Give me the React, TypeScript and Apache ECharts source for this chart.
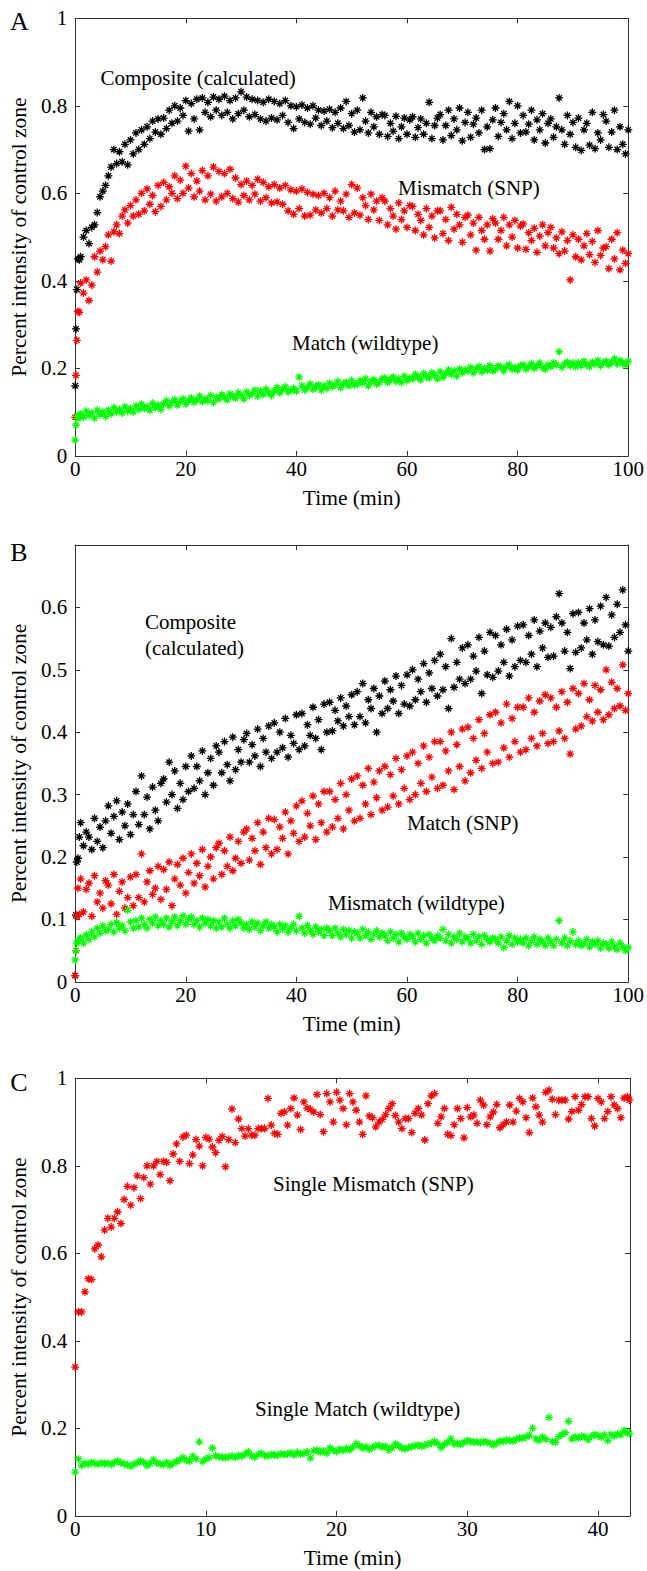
import React, { useEffect, useRef } from "react";
import * as echarts from "echarts";

// ---------- data (values in thousandths of the control-zone intensity) ----------
const timeAB = [0, 0.15, 0.3, 0.5, 0.75,
  1, 1.5, 2, 2.5, 3, 3.5, 4, 4.5, 5, 5.5,
  6, 6.5, 7, 7.5, 8, 8.5, 9, 9.5, 10, 10.5,
  11, 11.5, 12, 12.5, 13, 13.5, 14, 14.5, 15, 15.5,
  16, 16.5, 17, 17.5, 18, 18.5, 19, 19.5, 20, 20.5,
  21, 21.5, 22, 22.5, 23, 23.5, 24, 24.5, 25, 25.5,
  26, 26.5, 27, 27.5, 28, 28.5, 29, 29.5, 30, 30.5,
  31, 31.5, 32, 32.5, 33, 33.5, 34, 34.5, 35, 35.5,
  36, 36.5, 37, 37.5, 38, 38.5, 39, 39.5, 40, 40.5,
  41, 41.5, 42, 42.5, 43, 43.5, 44, 44.5, 45, 45.5,
  46, 46.5, 47, 47.5, 48, 48.5, 49, 49.5, 50, 50.5,
  51, 51.5, 52, 52.5, 53, 53.5, 54, 54.5, 55, 55.5,
  56, 56.5, 57, 57.5, 58, 58.5, 59, 59.5, 60, 60.5,
  61, 61.5, 62, 62.5, 63, 63.5, 64, 64.5, 65, 65.5,
  66, 66.5, 67, 67.5, 68, 68.5, 69, 69.5, 70, 70.5,
  71, 71.5, 72, 72.5, 73, 73.5, 74, 74.5, 75, 75.5,
  76, 76.5, 77, 77.5, 78, 78.5, 79, 79.5, 80, 80.5,
  81, 81.5, 82, 82.5, 83, 83.5, 84, 84.5, 85, 85.5,
  86, 86.5, 87, 87.5, 88, 88.5, 89, 89.5, 90, 90.5,
  91, 91.5, 92, 92.5, 93, 93.5, 94, 94.5, 95, 95.5,
  96, 96.5, 97, 97.5, 98, 98.5, 99, 99.5, 100];

const compositeA = [160, 290, 380, 450, 448,
  455, 500, 515, 485, 522, 528, 556, 592, 605, 618,
  640, 660, 700, 668, 695, 672, 712, 665, 722, 690,
  738, 700, 745, 712, 752, 725, 765, 740, 770, 735,
  772, 748, 790, 760, 800, 765, 795, 778, 812, 742,
  805, 770, 815, 745, 818, 785, 808, 775, 820, 790,
  815, 778, 822, 785, 812, 770, 818, 782, 832, 790,
  820, 775, 815, 780, 812, 770, 808, 765, 815, 772,
  810, 768, 805, 778, 812, 762, 800, 748, 798, 770,
  802, 762, 795, 758, 800, 772, 790, 755, 788, 765,
  792, 750, 785, 760, 795, 748, 810, 755, 782, 740,
  790, 745, 818, 765, 738, 785, 752, 775, 735, 780,
  778, 730, 760, 742, 776, 725, 752, 772, 735, 768,
  775, 728, 750, 770, 735, 760, 808, 725, 755, 772,
  780, 722, 755, 790, 732, 770, 745, 795, 720, 762,
  785, 728, 758, 772, 738, 790, 700, 752, 702, 768,
  795, 730, 762, 782, 745, 810, 725, 760, 800, 738,
  778, 740, 758, 790, 722, 768, 745, 782, 715, 760,
  770, 728, 752, 818, 745, 712, 778, 735, 762, 705,
  772, 698, 745, 760, 710, 785, 702, 738, 722, 780,
  765, 705, 740, 790, 700, 752, 712, 690, 745];

const mismatchA = [88, 184, 264, 330, 328,
  395, 372, 402, 355, 390, 455, 420, 468, 448, 478,
  505, 445, 512, 528, 508, 548, 562, 532, 572, 548,
  585, 552, 600, 560, 610, 575, 595, 558, 618, 570,
  625, 585, 615, 600, 640, 588, 630, 600, 662, 612,
  645, 592, 628, 605, 652, 585, 640, 598, 660, 582,
  650, 592, 645, 600, 655, 588, 635, 580, 620, 595,
  628, 585, 618, 598, 632, 582, 625, 590, 615, 578,
  620, 580, 612, 575, 618, 560, 608, 552, 605, 565,
  610, 548, 602, 550, 598, 562, 595, 555, 600, 565,
  590, 548, 605, 562, 582, 560, 598, 545, 620, 555,
  612, 550, 590, 572, 540, 598, 562, 582, 538, 590,
  582, 528, 565, 548, 518, 578, 540, 560, 522, 572,
  570, 515, 552, 538, 505, 565, 522, 548, 498, 560,
  560, 508, 540, 492, 568, 518, 552, 528, 488, 545,
  550, 505, 532, 470, 545, 515, 495, 528, 468, 542,
  532, 495, 515, 545, 480, 528, 500, 538, 475, 525,
  530, 472, 510, 492, 520, 465, 502, 528, 480, 510,
  522, 475, 498, 462, 512, 468, 492, 402, 505, 455,
  495, 448, 480, 508, 460, 490, 442, 515, 458, 475,
  478, 428, 495, 450, 510, 425, 470, 440, 462];

const matchA = [36, 70, 90, 85, 92,
  95, 88, 102, 92, 98, 86, 104, 94, 100, 90,
  104, 96, 110, 100, 106, 98, 112, 102, 108, 100,
  114, 106, 118, 108, 112, 104, 120, 110, 116, 106,
  118, 126, 114, 122, 128, 116, 124, 130, 118, 126,
  132, 122, 128, 136, 124, 130, 126, 138, 122, 134,
  130, 140, 134, 128, 142, 136, 132, 144, 138, 130,
  146, 138, 142, 150, 136, 148, 140, 152, 144, 138,
  148, 156, 144, 152, 158, 146, 150, 154, 148, 180,
  160, 150, 156, 164, 152, 158, 162, 150, 160, 154,
  166, 158, 162, 170, 156, 164, 168, 160, 172, 162,
  164, 172, 166, 176, 160, 170, 174, 164, 168, 176,
  178, 168, 174, 180, 170, 176, 168, 182, 172, 178,
  176, 186, 180, 174, 188, 182, 178, 190, 184, 176,
  192, 180, 188, 196, 186, 194, 182, 198, 190, 196,
  194, 202, 190, 198, 204, 192, 200, 196, 206, 194,
  198, 206, 202, 194, 204, 208, 198, 202, 196, 206,
  208, 198, 204, 210, 200, 206, 212, 202, 198, 208,
  204, 212, 208, 238, 202, 210, 214, 206, 212, 204,
  212, 206, 216, 208, 204, 214, 210, 218, 206, 212,
  216, 208, 214, 222, 210, 218, 212, 208, 216];

const compositeB = [10, 107, 192, 198, 232,
  255, 218, 240, 232, 212, 262, 225, 248, 215, 258,
  282, 238, 265, 290, 228, 272, 250, 285, 236, 268,
  305, 252, 330, 268, 296, 245, 312, 275, 258, 318,
  325, 288, 352, 300, 338, 278, 318, 292, 345, 305,
  362, 310, 345, 322, 370, 300, 335, 358, 315, 378,
  368, 335, 385, 348, 322, 392, 340, 372, 352, 388,
  398, 352, 380, 362, 405, 345, 390, 368, 410, 358,
  415, 368, 400, 375, 422, 360, 395, 382, 428, 372,
  430, 378, 412, 395, 440, 390, 420, 372, 445, 400,
  448, 402, 435, 418, 455, 410, 442, 425, 460, 412,
  465, 425, 478, 415, 452, 438, 470, 400, 458, 430,
  482, 438, 468, 450, 490, 430, 475, 445, 492, 442,
  500, 452, 485, 465, 510, 448, 495, 470, 515, 458,
  525, 468, 505, 438, 550, 472, 512, 485, 535, 478,
  540, 485, 522, 498, 552, 462, 530, 492, 560, 488,
  555, 498, 540, 512, 565, 490, 548, 505, 570, 515,
  572, 512, 555, 525, 580, 505, 562, 535, 575, 520,
  568, 522, 585, 622, 575, 530, 560, 502, 590, 528,
  592, 535, 575, 548, 598, 525, 580, 545, 602, 540,
  616, 538, 588, 552, 605, 560, 628, 572, 530];

const matchB = [10, 50, 105, 150, 108,
  165, 112, 148, 158, 105, 170, 128, 142, 118, 162,
  155, 125, 172, 108, 145, 160, 118, 135, 168, 122,
  172, 135, 205, 128, 160, 178, 140, 150, 185, 132,
  180, 148, 192, 122, 165, 188, 155, 198, 142, 175,
  205, 158, 190, 170, 212, 152, 185, 200, 165, 215,
  222, 172, 210, 185, 232, 178, 198, 225, 190, 240,
  245, 195, 230, 210, 255, 188, 240, 215, 262, 205,
  260, 212, 248, 230, 272, 205, 258, 238, 282, 225,
  290, 232, 270, 250, 298, 228, 285, 255, 305, 240,
  305, 248, 292, 262, 318, 245, 300, 275, 325, 258,
  330, 262, 315, 285, 342, 268, 320, 295, 338, 275,
  345, 280, 332, 298, 358, 285, 340, 310, 362, 292,
  368, 300, 350, 318, 378, 305, 360, 328, 385, 310,
  385, 315, 370, 338, 400, 308, 380, 345, 405, 322,
  408, 335, 390, 355, 420, 342, 398, 368, 428, 350,
  432, 352, 415, 375, 445, 360, 422, 385, 440, 368,
  440, 372, 455, 390, 432, 378, 450, 398, 460, 382,
  455, 385, 440, 402, 465, 390, 448, 365, 470, 405,
  462, 410, 478, 425, 452, 418, 475, 432, 468, 420,
  500, 428, 480, 438, 470, 442, 508, 435, 462];

const mismatchB = [35, 50, 62, 65, 68,
  70, 62, 75, 68, 80, 72, 86, 78, 90, 82,
  84, 92, 80, 95, 86, 90, 82, 115, 96, 86,
  98, 88, 102, 92, 86, 100, 94, 104, 90, 98,
  92, 102, 88, 96, 104, 90, 98, 106, 92, 100,
  104, 92, 98, 88, 102, 94, 100, 90, 98, 86,
  96, 88, 102, 92, 86, 98, 90, 100, 94, 86,
  92, 84, 96, 88, 94, 82, 90, 96, 86, 92,
  88, 80, 92, 84, 90, 80, 86, 92, 82, 105,
  86, 78, 90, 82, 76, 88, 80, 84, 74, 86,
  82, 74, 86, 78, 72, 84, 76, 82, 70, 80,
  78, 70, 84, 74, 80, 68, 76, 82, 72, 78,
  74, 66, 80, 70, 76, 64, 78, 72, 68, 76,
  72, 64, 78, 68, 74, 62, 76, 70, 66, 74,
  70, 84, 66, 76, 62, 72, 68, 78, 64, 72,
  70, 62, 76, 66, 72, 60, 74, 68, 64, 70,
  68, 62, 72, 55, 66, 74, 60, 70, 64, 68,
  62, 70, 58, 66, 72, 60, 68, 64, 58, 70,
  64, 58, 68, 98, 62, 70, 58, 66, 80, 60,
  66, 58, 62, 68, 56, 64, 60, 66, 54, 62,
  60, 54, 64, 56, 52, 62, 56, 50, 55];

const timeC = [0, 0.25, 0.5, 0.75, 1, 1.25, 1.5, 1.75, 2, 2.25, 2.5, 2.75,
  3, 3.25, 3.5, 3.75, 4, 4.25, 4.5, 4.75, 5, 5.25, 5.5, 5.75,
  6, 6.25, 6.5, 6.75, 7, 7.25, 7.5, 7.75, 8, 8.25, 8.5, 8.75,
  9, 9.25, 9.5, 9.75, 10, 10.25, 10.5, 10.75, 11, 11.25, 11.5, 11.75,
  12, 12.25, 12.5, 12.75, 13, 13.25, 13.5, 13.75, 14, 14.25, 14.5, 14.75,
  15, 15.25, 15.5, 15.75, 16, 16.25, 16.5, 16.75, 17, 17.25, 17.5, 17.75,
  18, 18.25, 18.5, 18.75, 19, 19.25, 19.5, 19.75, 20, 20.25, 20.5, 20.75,
  21, 21.25, 21.5, 21.75, 22, 22.25, 22.5, 22.75, 23, 23.25, 23.5, 23.75,
  24, 24.25, 24.5, 24.75, 25, 25.25, 25.5, 25.75, 26, 26.25, 26.5, 26.75,
  27, 27.25, 27.5, 27.75, 28, 28.25, 28.5, 28.75, 29, 29.25, 29.5, 29.75,
  30, 30.25, 30.5, 30.75, 31, 31.25, 31.5, 31.75, 32, 32.25, 32.5, 32.75,
  33, 33.25, 33.5, 33.75, 34, 34.25, 34.5, 34.75, 35, 35.25, 35.5, 35.75,
  36, 36.25, 36.5, 36.75, 37, 37.25, 37.5, 37.75, 38, 38.25, 38.5, 38.75,
  39, 39.25, 39.5, 39.75, 40, 40.25, 40.5, 40.75, 41, 41.25, 41.5, 41.75,
  42, 42.25, 42.4];

const singleMismatchC = [340, 466, 466, 512, 542, 540, 610, 619, 592, 653, 680, 660,
  680, 695, 668, 723, 753, 710, 750, 777, 725, 773, 800, 758,
  800, 810, 780, 810, 808, 766, 827, 850, 810, 866, 870, 805,
  825, 860, 845, 800, 865, 861, 843, 830, 858, 867, 798, 860,
  930, 853, 907, 885, 868, 885, 870, 870, 885, 885, 885, 954,
  893, 874, 872, 920, 923, 893, 931, 955, 916, 883, 946, 932,
  929, 923, 963, 917, 878, 965, 946, 900, 968, 950, 931, 894,
  965, 946, 927, 900, 872, 960, 914, 910, 889, 900, 906, 917,
  931, 942, 915, 900, 885, 908, 908, 876, 920, 931, 916, 859,
  942, 960, 965, 897, 912, 931, 872, 869, 894, 931, 908, 864,
  933, 912, 916, 897, 950, 939, 894, 912, 923, 940, 887, 894,
  900, 939, 900, 925, 954, 946, 910, 876, 955, 935, 916, 900,
  968, 973, 952, 917, 950, 950, 950, 907, 924, 958, 927, 940,
  958, 958, 908, 891, 954, 946, 908, 924, 958, 939, 931, 910,
  955, 958, 950];

const singleMatchC = [100, 130, 115, 120, 118, 122, 120, 118, 121, 119, 120, 117,
  122, 125, 121, 119, 116, 113, 118, 121, 126, 122, 115, 120,
  128, 121, 118, 117, 122, 115, 120, 124, 128, 133, 127, 125,
  136, 130, 169, 124, 130, 133, 155, 137, 135, 134, 132, 135,
  137, 133, 138, 136, 141, 146, 137, 134, 140, 143, 138, 137,
  140, 139, 138, 142, 140, 141, 144, 139, 145, 141, 143, 146,
  132, 148, 150, 145, 148, 143, 155, 150, 147, 152, 149, 154,
  151, 157, 165, 160, 155, 158, 152, 156, 160, 161, 157, 159,
  150, 156, 164, 160, 155, 153, 156, 158, 160, 162, 159, 161,
  164, 166, 170, 165, 156, 163, 168, 176, 164, 166, 163, 168,
  172, 170, 168, 169, 167, 170, 168, 166, 162, 166, 171, 170,
  173, 172, 171, 175, 178, 177, 180, 184, 200, 176, 172, 180,
  175, 225, 170, 168, 181, 186, 190, 216, 176, 180, 178, 182,
  180, 174, 182, 186, 183, 180, 185, 172, 186, 182, 187, 185,
  195, 190, 188];

// ---------- styling ----------
const FONT = '"Liberation Serif", "Times New Roman", serif';
const AXIS_COLOR = "#333333";
const ASTERISK = "path://M5 0L5 10M0 5L10 5M1.6 1.6L8.4 8.4M1.6 8.4L8.4 1.6";
const BLACK = "#000000";
const RED = "#ff0000";
const GREEN = "#00ff00";

function toPoints(t: number[], v: number[]) {
  const n = Math.min(t.length, v.length);
  const out: number[][] = [];
  for (let i = 0; i < n; i++) out.push([t[i], v[i] / 1000]);
  return out;
}

const panels = [
  {
    top: 18.3, height: 437.5, xMax: 100, xInterval: 20, yMax: 1, yInterval: 0.2,
    showXMax: true, showYMax: true,
    series: [
      { name: "Composite (calculated)", t: timeAB, v: compositeA, color: BLACK },
      { name: "Mismatch (SNP)", t: timeAB, v: mismatchA, color: RED },
      { name: "Match (wildtype)", t: timeAB, v: matchA, color: GREEN },
    ],
  },
  {
    top: 545, height: 436.8, xMax: 100, xInterval: 20, yMax: 0.7, yInterval: 0.1,
    showXMax: true, showYMax: false,
    series: [
      { name: "Composite (calculated) B", t: timeAB, v: compositeB, color: BLACK },
      { name: "Match (SNP)", t: timeAB, v: matchB, color: RED },
      { name: "Mismatch (wildtype)", t: timeAB, v: mismatchB, color: GREEN },
    ],
  },
  {
    top: 1078.3, height: 437.5, xMax: 42.45, xInterval: 10, yMax: 1, yInterval: 0.2,
    showXMax: false, showYMax: true,
    series: [
      { name: "Single Mismatch (SNP)", t: timeC, v: singleMismatchC, color: RED },
      { name: "Single Match (wildtype)", t: timeC, v: singleMatchC, color: GREEN },
    ],
  },
];

const annotations = [
  { text: "A", x: 19.5, y: 21.5, size: 26, align: "center" },
  { text: "Composite (calculated)", x: 100.5, y: 77.5, size: 21, align: "left" },
  { text: "Mismatch (SNP)", x: 398, y: 187.5, size: 21, align: "left" },
  { text: "Match (wildtype)", x: 292, y: 343, size: 21, align: "left" },
  { text: "B", x: 19, y: 552, size: 26, align: "center" },
  { text: "Composite", x: 145, y: 621.5, size: 21, align: "left" },
  { text: "(calculated)", x: 145, y: 647.5, size: 21, align: "left" },
  { text: "Match (SNP)", x: 407, y: 823, size: 21, align: "left" },
  { text: "Mismatch (wildtype)", x: 328, y: 903, size: 21, align: "left" },
  { text: "C", x: 19, y: 1082, size: 26, align: "center" },
  { text: "Single Mismatch (SNP)", x: 273, y: 1184, size: 21, align: "left" },
  { text: "Single Match (wildtype)", x: 255, y: 1409, size: 21, align: "left" },
];

function buildOption() {
  const grid: any[] = [];
  const xAxis: any[] = [];
  const yAxis: any[] = [];
  const series: any[] = [];
  const axisLine = { show: true, onZero: false, lineStyle: { color: AXIS_COLOR, width: 1 } };
  const axisTick = { show: true, inside: true, length: 5, lineStyle: { color: AXIS_COLOR, width: 1 } };
  const labelStyle = { color: "#000", fontFamily: FONT, fontSize: 21 };
  const nameStyle = { color: "#000", fontFamily: FONT, fontSize: 21.5 };

  panels.forEach((p, i) => {
    grid.push({ left: 73, top: p.top, width: 557, height: p.height, containLabel: false });
    const baseX = {
      type: "value", gridIndex: i, min: 0, max: p.xMax, interval: p.xInterval,
      axisLine, axisTick, splitLine: { show: false },
    };
    const baseY = {
      type: "value", gridIndex: i, min: 0, max: p.yMax, interval: p.yInterval,
      axisLine, axisTick, splitLine: { show: false },
    };
    xAxis.push({
      ...baseX, position: "bottom",
      name: "Time (min)", nameLocation: "middle", nameGap: 31, nameTextStyle: nameStyle,
      axisLabel: { ...labelStyle, margin: 3, showMaxLabel: p.showXMax, showMinLabel: true },
    });
    xAxis.push({ ...baseX, position: "top", axisLabel: { show: false } });
    yAxis.push({
      ...baseY, position: "left",
      name: "Percent intensity of control zone", nameLocation: "middle", nameGap: 42,
      nameTextStyle: nameStyle,
      axisLabel: { ...labelStyle, margin: 8, showMaxLabel: p.showYMax, showMinLabel: true },
    });
    yAxis.push({ ...baseY, position: "right", axisLabel: { show: false } });

    p.series.forEach((s) => {
      series.push({
        type: "scatter",
        name: s.name,
        xAxisIndex: 2 * i,
        yAxisIndex: 2 * i,
        data: toPoints(s.t, s.v),
        symbol: ASTERISK,
        symbolSize: 8,
        itemStyle: { color: "transparent", borderColor: s.color, borderWidth: 1.3, opacity: 1 },
        emphasis: { disabled: true },
        silent: true,
      });
    });
  });

  const graphic = annotations.map((a) => ({
    type: "text",
    x: a.x,
    y: a.y,
    silent: true,
    style: {
      text: a.text,
      fill: "#000",
      fontFamily: FONT,
      fontSize: a.size,
      align: a.align,
      verticalAlign: "middle",
    },
  }));

  return {
    animation: false,
    backgroundColor: "#ffffff",
    grid,
    xAxis,
    yAxis,
    series,
    graphic,
  };
}

export default function App() {
  const ref = useRef<HTMLDivElement>(null);
  useEffect(() => {
    if (!ref.current) return;
    const chart = echarts.init(ref.current, undefined, { renderer: "svg" });
    chart.setOption(buildOption() as any);
    return () => chart.dispose();
  }, []);
  return (
    <div
      ref={ref}
      style={{ position: "absolute", left: 0, top: 0, width: 647, height: 1571, background: "#fff" }}
    />
  );
}
